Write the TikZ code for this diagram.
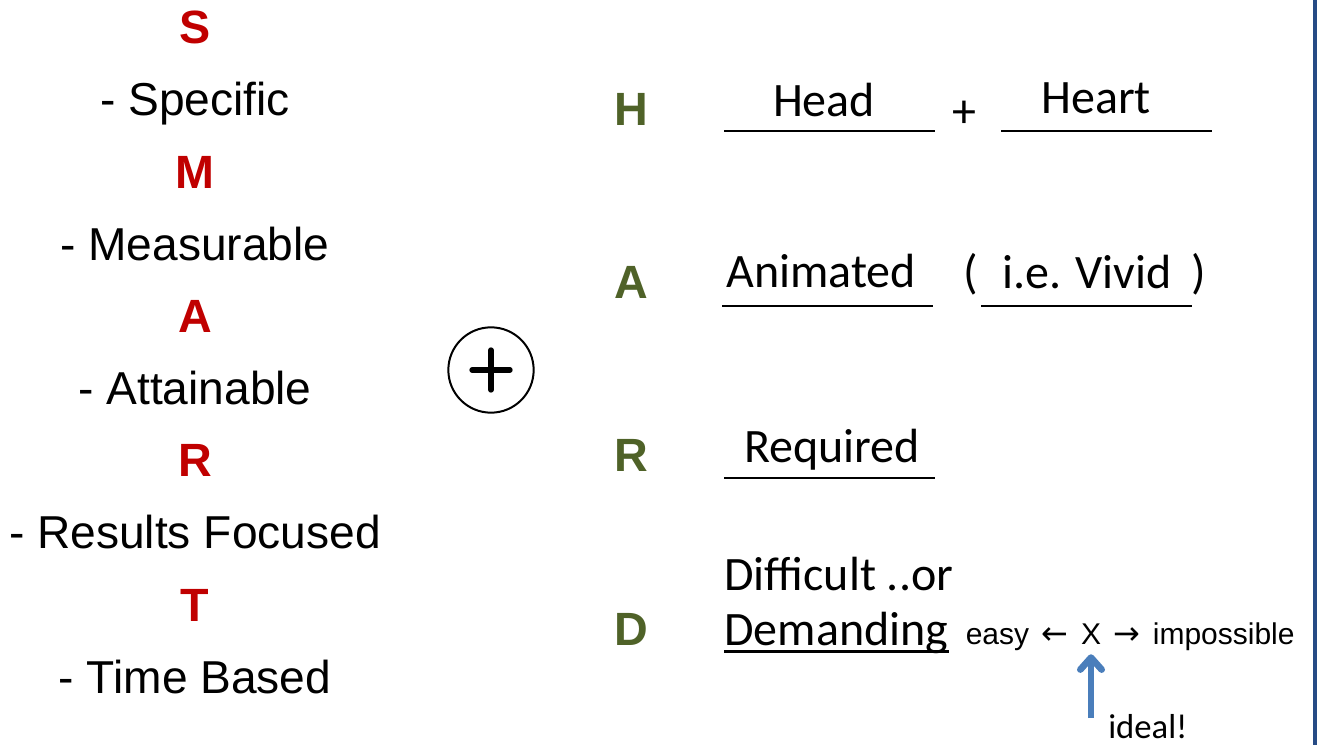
\documentclass[tikz,border=0pt]{standalone}
\usepackage{fontspec}
\setmainfont{Liberation Sans}
\newfontfamily\carlito{Carlito}
\newfontfamily\arrowfont{DejaVu Sans}
\usetikzlibrary{arrows.meta, positioning}
\definecolor{smartred}{HTML}{C00000}
\definecolor{hardgreen}{HTML}{4F6228}
\definecolor{idealblue}{HTML}{4A7EBB}
\definecolor{edgeblue}{HTML}{264B85}
\tikzset{
  txt/.style={inner sep=0pt, anchor=base},
  smartword/.style={txt, font=\fontsize{34.6}{40}\selectfont},
  smartletter/.style={txt, font=\fontsize{35}{40}\selectfont\bfseries, text=smartred},
  hardletter/.style={txt, font=\fontsize{35}{40}\selectfont\bfseries, text=hardgreen},
  hardword/.style={txt, font=\carlito\fontsize{36}{40}\selectfont},
  scaletxt/.style={txt, font=\fontsize{22.5}{26}\selectfont},
  scalearrow/.style={txt, font=\arrowfont\fontsize{24}{26}\selectfont},
  blank/.style={line width=1.8pt},
  idealarrow/.style={draw=idealblue, line width=5pt, -{Straight Barb[length=9pt,width=16pt,round]}},
}

\begin{document}
\begin{tikzpicture}[x=0.75pt,y=-0.75pt]
  \useasboundingbox (0,0) rectangle (1318,745);

  % right edge
  \draw[edgeblue, line width=3pt] (1315,0) -- (1315,745);

  % SMART
  \foreach \ltr/\word [count=\i from 0, evaluate=\i as \yy using 44+144.25*\i] in
  {S/Specific, M/Measurable, A/Attainable, R/Results Focused, T/Time Based}
  {
    \node[smartletter] at (195,\yy) (smart\i){\ltr};
    \node[smartword] at (195,\yy+72) (goal\i){- \word};
  }

  % plus
  \node[circle, draw, line width=1.5pt, minimum size=64pt, inner sep=0pt] at (491,370) (join){};
  \draw[line width=4pt, line cap=round] (join.center) ++(-19,0) -- ++(38,0);
  \draw[line width=4pt, line cap=round] (join.center) ++(0,-20) -- ++(0,40);

  % HARD
  \foreach \ltr/\yy [count=\i] in {H/126, A/299, R/471, D/645}
    \node[hardletter] at (631,\yy) (hard\i){\ltr};

  % blanks
  \node[hardword] at (824,117) (head){Head};
  \node[hardword] at (964,128) (plusword){+};
  \node[hardword] at (1096,114) (heart){Heart};
  \node[hardword] at (821,288) (animated){Animated};
  \node[hardword] at (971,289) (lpar){(};
  \node[hardword] at (1087,289) (vivid){i.e. Vivid};
  \node[hardword] at (1199,289) (rpar){)};
  \node[hardword] at (832,462) (required){Required};
  \foreach \xa/\yy in {724/131, 1001/131, 722/306, 981/306, 724/478}
    \draw[blank] (\xa,\yy) -- ++(211,0);

  % Difficult / Demanding
  \node[hardword, anchor=base west] at (724,590) (difficult){Difficult ..or};
  \node[hardword, anchor=base west] at (724,645) (demanding){Demanding};
  \draw[blank] ([yshift=-5pt]demanding.base west) -- ([yshift=-5pt]demanding.base east);

  % scale
  \node[scaletxt] at (1091,644) (xmark){X};
  \node[scalearrow, base left=9pt of xmark] (larr){←};
  \node[scaletxt, base left=9pt of larr] (easy){easy};
  \node[scalearrow, base right=9pt of xmark] (rarr){→};
  \node[scaletxt, base right=9pt of rarr] (impossible){impossible};

  % ideal
  \coordinate (tail) at (1091,718);
  \draw[idealarrow] (tail) -- ([yshift=-7.5pt]xmark.south);
  \node[hardword, font=\carlito\fontsize{26}{30}\selectfont, anchor=base west] at (1108,738) (ideal){ideal!};
\end{tikzpicture}
\end{document}
